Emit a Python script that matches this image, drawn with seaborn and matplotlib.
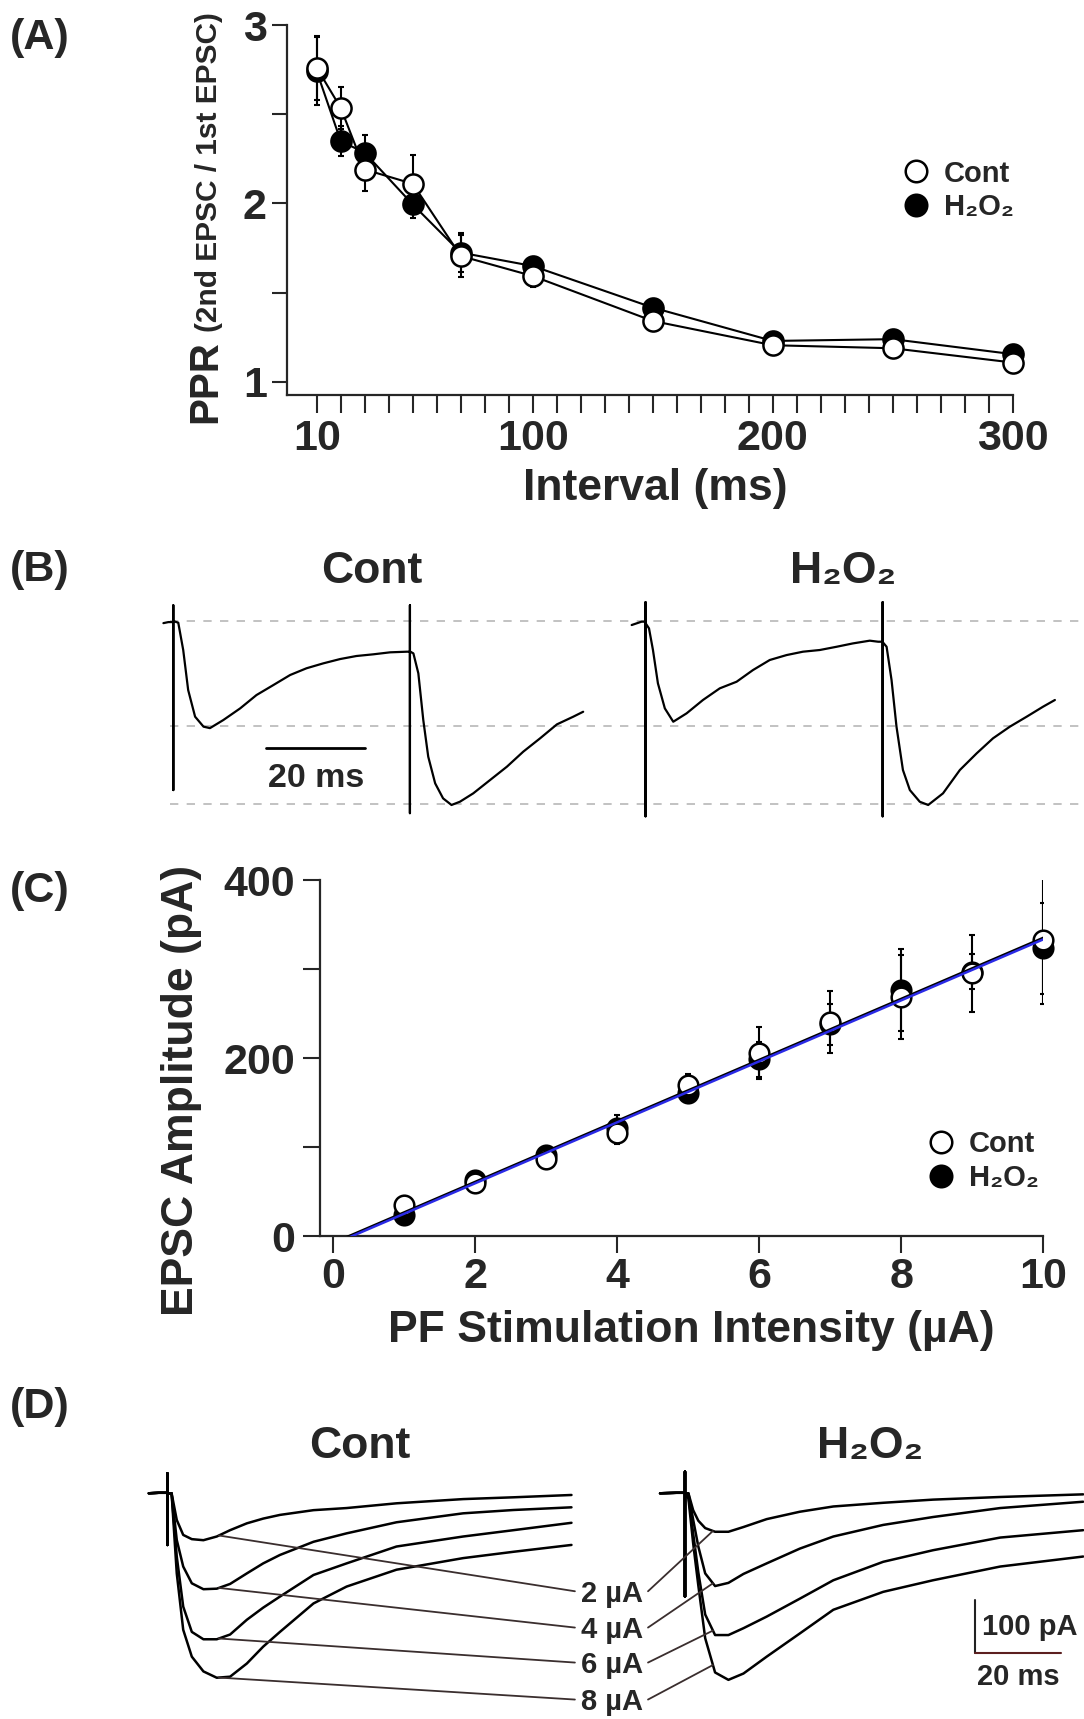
import matplotlib
matplotlib.use('Agg')
import matplotlib.pyplot as plt
from matplotlib.lines import Line2D
import numpy as np
import seaborn as sns

# ---- (A) paired-pulse ratio vs inter-stimulus interval ----
intervals = [10, 20, 30, 50, 70, 100, 150, 200, 250, 300]
ppr_cont = [2.76, 2.535, 2.19, 2.11, 1.705, 1.593, 1.341, 1.205, 1.188, 1.108]
ppr_cont_err = [0.18, 0.12, 0.12, 0.16, 0.12, 0.06, 0.03, 0.03, 0.03, 0.03]
ppr_h2o2 = [2.74, 2.349, 2.284, 1.994, 1.724, 1.649, 1.416, 1.229, 1.239, 1.155]
ppr_h2o2_err = [0.19, 0.085, 0.10, 0.074, 0.11, 0.04, 0.03, 0.03, 0.03, 0.03]

# ---- (B) paired-pulse traces, 50 ms interval (normalised to 1st EPSC) ----
b_cont_t = [-2.0, -1.0, 0.0, 0.0, 0.0, 0.0, 1.0, 2.0, 3.0, 4.4, 6.1, 7.4, 10.1, 13.5, 16.8, 20.2,
            23.6, 26.9, 30.3, 33.7, 37.0, 40.4, 43.8, 47.2, 47.8, 47.8, 47.8, 47.8, 48.5, 49.5,
            50.5, 51.5, 52.9, 54.5, 56.2, 57.9, 60.6, 64.0, 67.4, 70.7, 74.1, 77.5, 80.8, 82.8]
b_cont_y = [-0.02, -0.01, -0.01, 0.15, -1.61, 0.0, -0.016, -0.276, -0.657, -0.911, -1.006, -1.02,
            -0.943, -0.832, -0.705, -0.61, -0.514, -0.45, -0.403, -0.362, -0.333, -0.317, -0.298,
            -0.292, -0.292, 0.15, -1.83, -0.29, -0.308, -0.498, -0.943, -1.292, -1.546, -1.689,
            -1.752, -1.721, -1.641, -1.514, -1.387, -1.244, -1.117, -0.984, -0.911, -0.864]
b_h2o2_t = [-2.8, -0.8, 0.0, 0.0, 0.0, 0.0, 0.7, 1.5, 2.5, 3.9, 5.6, 8.3, 11.6, 15.0, 18.4, 21.7,
            25.1, 28.5, 31.8, 35.2, 38.6, 41.9, 45.3, 47.0, 47.9, 47.9, 47.9, 47.9, 48.7, 49.7,
            50.7, 52.0, 53.4, 55.4, 57.1, 60.1, 63.5, 66.9, 70.2, 73.6, 77.0, 80.3, 82.7]
b_h2o2_y = [-0.038, -0.006, -0.006, 0.18, -1.86, -0.02, -0.07, -0.276, -0.593, -0.832, -0.959,
            -0.879, -0.752, -0.641, -0.578, -0.467, -0.371, -0.324, -0.292, -0.276, -0.245,
            -0.213, -0.187, -0.197, -0.197, 0.18, -1.86, -0.2, -0.245, -0.562, -1.006, -1.419,
            -1.61, -1.721, -1.752, -1.641, -1.419, -1.26, -1.117, -1.006, -0.911, -0.816, -0.752]
b_levels = [0.0, -1.0, -1.746]   # baseline, 1st and 2nd EPSC peaks

# ---- (C) input-output relation ----
intensity = [1, 2, 3, 4, 5, 6, 7, 8, 9, 10]
amp_cont = [34.8, 59.2, 86.5, 115.4, 169.7, 205.3, 240.8, 268.9, 295.1, 332.6]
amp_cont_err = [5, 6, 6, 12, 12, 29, 35, 47, 43, 72]
amp_h2o2 = [23.6, 62.9, 91.0, 121.0, 160.3, 198.5, 237.8, 276.4, 297.0, 323.3]
amp_h2o2_err = [5, 6, 6, 15, 10, 20, 23, 46, 20, 51]

# ---- (D) EPSC traces at 2/4/6/8 uA (pA) ----
stim_labels = ['2 µA', '4 µA', '6 µA', '8 µA']
d_cont_t = [-4.3, -2.0, 0.0, 0.0, 0.0, 0.0, 1.0, 2.2, 3.7, 5.7, 8.4, 11.5, 14.6, 18.5, 22.3, 26.2,
            34.0, 41.7, 53.3, 68.8, 80.5, 94.0]
d_cont_2 = [0, 1, 1, 38, -98, 0, 0, -50.6, -79, -87, -89, -82, -70, -57, -48, -41, -32, -28, -19,
            -11, -7.6, -3.2]
d_cont_4 = [0, 1, 1, 38, -98, 0, 0, -88.6, -139, -170.8, -182, -181, -172, -152, -133, -117, -92,
            -76, -55, -38, -31.7, -26.6]
d_cont_6 = [0, 1, 1, 38, -98, 0, 0, -120, -215, -263, -277, -277, -268, -240, -217, -196, -155,
            -133, -101, -82, -70, -56]
d_cont_8 = [0, 1, 1, 38, -98, 0, 0, -152, -259, -310, -338, -350, -348, -323, -291, -263, -209,
            -177, -145, -123, -111, -98]
d_h2o2_t = [-5.8, -2.0, 0.0, 0.0, 0.0, 0.0, 0.8, 1.9, 3.1, 4.7, 7.0, 10.1, 13.6, 19.0, 26.7, 34.5,
            46.1, 57.7, 73.3, 92.6]
d_h2o2_2 = [0, 1, 1, 41, -196, 0, 0, -32, -52, -66, -73, -73, -64, -49, -35, -25, -18, -12, -7, -2]
d_h2o2_4 = [0, 1, 1, 41, -196, 0, 0, -50, -101, -152, -176, -170, -153, -133, -105, -82, -60, -45,
            -28, -16]
d_h2o2_6 = [0, 1, 1, 41, -196, 0, -5, -76, -150, -230, -269, -269, -256, -234, -200, -165, -130,
            -108, -84, -70]
d_h2o2_8 = [0, 1, 1, 41, -196, 0, -10, -95, -175, -275, -340, -354, -342, -310, -266, -221, -187,
            -165, -139, -120]

sns.set_style('ticks')
plt.rcParams['font.family'] = ['Liberation Sans', 'DejaVu Sans']
plt.rcParams['font.weight'] = 'bold'
plt.rcParams['axes.labelweight'] = 'bold'

W, H = 1084, 1719
fig = plt.figure(figsize=(W / 100, H / 100), dpi=100)


def frac(x, y):
    return x / W, 1 - y / H


def box(x0, y0, x1, y1):
    return [x0 / W, 1 - y1 / H, (x1 - x0) / W, (y1 - y0) / H]


def style_axis(ax, xlen, ylen, xpad, ypad):
    sns.despine(ax=ax)
    for s in ['left', 'bottom']:
        ax.spines[s].set_linewidth(1.6)
    ax.tick_params(axis='x', length=xlen, width=1.5, pad=xpad, labelsize=31)
    ax.tick_params(axis='y', length=ylen, width=1.5, pad=ypad, labelsize=31)


for lab, yy in [('(A)', 38), ('(B)', 570), ('(C)', 891), ('(D)', 1407)]:
    fig.text(*frac(10, yy), lab, fontsize=31, va='center', ha='left')

# ---------------- (A) ----------------
axa = fig.add_axes(box(287, 25, 1012.7, 395))
axa.errorbar(intervals, ppr_cont, yerr=ppr_cont_err, fmt='none', ecolor='black', elinewidth=1.5,
             capsize=2, capthick=1.5, zorder=1)
axa.errorbar(intervals, ppr_h2o2, yerr=ppr_h2o2_err, fmt='none', ecolor='black', elinewidth=1.5,
             capsize=2, capthick=1.5, zorder=1)
sns.lineplot(x=intervals, y=ppr_h2o2, ax=axa, color='black', lw=1.5, marker='o', markersize=14.5,
             markerfacecolor='black', markeredgecolor='black', markeredgewidth=1.8, zorder=2,
             clip_on=False)
sns.lineplot(x=intervals, y=ppr_cont, ax=axa, color='black', lw=1.5, marker='o', markersize=14.5,
             markerfacecolor='white', markeredgecolor='black', markeredgewidth=1.8, zorder=3,
             clip_on=False)
axa.set_xlim(-2.4, 300)
axa.set_ylim(0.926, 3.0)
xt = list(range(10, 301, 10))
axa.set_xticks(xt)
axa.set_xticklabels([str(v) if v in (10, 100, 200, 300) else '' for v in xt])
axa.set_yticks([1, 1.5, 2, 2.5, 3])
axa.set_yticklabels(['1', '', '2', '', '3'])
style_axis(axa, 13, 10.8, 4, 3.6)
axa.set_xlabel('')
axa.set_ylabel('')
fig.text(*frac(655, 500), 'Interval (ms)', fontsize=32, ha='center', va='baseline')
t1 = fig.text(*frac(216.7, 423), 'PPR', fontsize=29, rotation=90, rotation_mode='anchor',
              ha='left', va='baseline')
bb = t1.get_window_extent(fig.canvas.get_renderer())
fig.text(216.7 / W, (bb.y1 + 8) / H, '(2nd EPSC / 1st EPSC)', fontsize=21.5, rotation=90,
         rotation_mode='anchor', ha='left', va='baseline')

def legend_handles():
    return [Line2D([], [], ls='none', marker='o', ms=15.5, mfc='white', mec='black', mew=1.8),
            Line2D([], [], ls='none', marker='o', ms=15.5, mfc='black', mec='black', mew=1.8)]

fig.legend(legend_handles(), ['Cont', 'H₂O₂'], loc='center left', bbox_to_anchor=frac(901.5, 190.5),
           frameon=False, fontsize=21, handlelength=1.0, handletextpad=0.45, labelspacing=0.2,
           borderpad=0, borderaxespad=0)

# ---------------- (B) ----------------
axb = fig.add_axes(box(160, 595, 1084, 820))
b_shift = 95.4
for lvl in b_levels:
    axb.axhline(lvl, xmin=0.011, color='#b8b8b8', lw=1.2, ls=(0, (5, 5)), zorder=0)
sns.lineplot(x=b_cont_t, y=b_cont_y, ax=axb, color='black', lw=1.6, estimator=None, sort=False)
sns.lineplot(x=np.array(b_h2o2_t) + b_shift, y=b_h2o2_y, ax=axb, color='black', lw=1.6,
             estimator=None, sort=False)
axb.plot([18.7, 38.7], [-1.212, -1.212], color='black', lw=2)
axb.text(28.8, -1.578, '20 ms', fontsize=24.5, ha='center', va='baseline')
axb.set_xlim(-2.69, 183.98)
axb.set_ylim(-1.895, 0.248)
axb.axis('off')
fig.text(*frac(371.7, 583.3), 'Cont', fontsize=32, ha='center', va='baseline')
fig.text(*frac(843.3, 583.3), 'H₂O₂', fontsize=32, ha='center', va='baseline')

# ---------------- (C) ----------------
axc = fig.add_axes(box(320, 880, 1043.3, 1236))
axc.set_xlim(-0.187, 10)
axc.set_ylim(0, 400)
axc.errorbar(intensity, amp_cont, yerr=amp_cont_err, fmt='none', ecolor='black', elinewidth=1.5,
             capsize=2, capthick=1.5, zorder=1)
axc.errorbar(intensity, amp_h2o2, yerr=amp_h2o2_err, fmt='none', ecolor='black', elinewidth=1.5,
             capsize=2, capthick=1.5, zorder=1)
sns.scatterplot(x=intensity, y=amp_h2o2, ax=axc, s=200, color='black', edgecolor='black',
                linewidth=1.8, zorder=2, clip_on=False)
sns.scatterplot(x=intensity, y=amp_cont, ax=axc, s=200, color='white', edgecolor='black',
                linewidth=1.8, zorder=3, clip_on=False)
sns.regplot(x=intensity, y=amp_cont, ax=axc, scatter=False, ci=None, truncate=False, color='black',
            line_kws={'lw': 1.8, 'zorder': 4})
sns.regplot(x=intensity, y=amp_h2o2, ax=axc, scatter=False, ci=None, truncate=False, color='#2a2ae6',
            line_kws={'lw': 1.8, 'zorder': 5})
axc.set_xlim(-0.187, 10)
axc.set_ylim(0, 400)
axc.set_xticks([0, 2, 4, 6, 8, 10])
axc.set_yticks([0, 100, 200, 300, 400])
axc.set_yticklabels(['0', '', '200', '', '400'])
style_axis(axc, 12, 12, 3, 5.8)
axc.set_xlabel('')
axc.set_ylabel('')
fig.text(*frac(691.5, 1342), 'PF Stimulation Intensity (µA)', fontsize=32, ha='center', va='baseline')
fig.text(*frac(193.3, 1090), 'EPSC Amplitude (pA)', fontsize=32, rotation=90, rotation_mode='anchor',
         ha='center', va='baseline')
fig.legend(legend_handles(), ['Cont', 'H₂O₂'], loc='center left', bbox_to_anchor=frac(926.8, 1160.8),
           frameon=False, fontsize=21, handlelength=1.0, handletextpad=0.45, labelspacing=0.2,
           borderpad=0, borderaxespad=0)

# ---------------- (D) ----------------
axd = fig.add_axes(box(140, 1465, 1084, 1719))
d_shift = 120.4
cont_traces = [d_cont_2, d_cont_4, d_cont_6, d_cont_8]
h2o2_traces = [d_h2o2_2, d_h2o2_4, d_h2o2_6, d_h2o2_8]
for tr in cont_traces:
    sns.lineplot(x=d_cont_t, y=tr, ax=axd, color='black', lw=1.8, estimator=None, sort=False)
for tr in h2o2_traces:
    sns.lineplot(x=np.array(d_h2o2_t) + d_shift, y=tr, ax=axd, color='black', lw=1.8,
                 estimator=None, sort=False)

label_base = [-205.7, -274.6, -341.0, -411.2]
for lab, yb, tc, th in zip(stim_labels, label_base, cont_traces, h2o2_traces):
    axd.text(103.5, yb, lab, fontsize=21, ha='center', va='baseline')
    ym = yb + 19.8
    axd.plot([94.8, 12.0], [ym, np.interp(12.0, d_cont_t, tc)], color='#3a2e2e', lw=1.3)
    axd.plot([111.8, 6.5 + d_shift], [ym, np.interp(6.5, d_h2o2_t, th)], color='#3a2e2e', lw=1.3)

# scale bar 100 pA / 20 ms
axd.plot([187.8, 187.8], [-302.5, -202.5], color='#222222', lw=1.5)
axd.plot([187.8, 207.8], [-302.5, -302.5], color='#5c1f1f', lw=1.5)
axd.text(189.4, -268.7, '100 pA', fontsize=21, ha='left', va='baseline')
axd.text(188.3, -363.6, '20 ms', fontsize=21, ha='left', va='baseline')
axd.set_xlim(-6.35, 213.2)
axd.set_ylim(-428.3, 53.7)
axd.axis('off')
fig.text(*frac(360, 1458), 'Cont', fontsize=32, ha='center', va='baseline')
fig.text(*frac(870, 1458), 'H₂O₂', fontsize=32, ha='center', va='baseline')

fig.savefig('out.png', dpi=100)
